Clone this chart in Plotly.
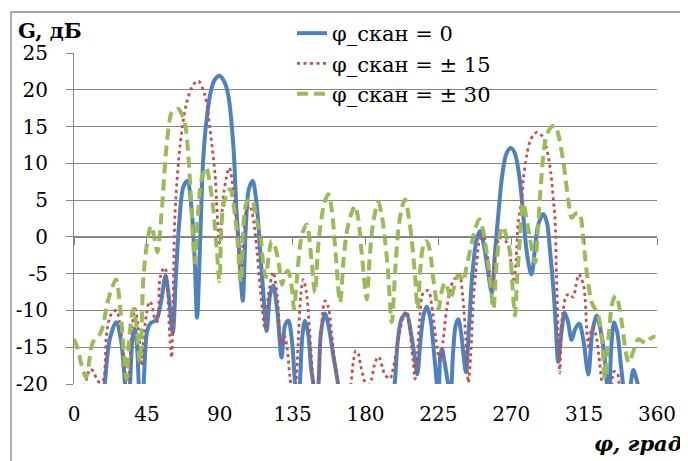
import plotly.graph_objects as go

# ---- data ----
x_scan0 = [0, 15, 19, 22, 26, 29, 31.5, 33, 34.6, 36, 37.5, 39, 40, 41.5, 43, 45, 47, 51, 54, 56.5, 58.5, 61,
           63, 65, 67.5, 70, 72.5, 74.5, 76, 77.8, 79.8, 81.9, 84.5, 87, 90, 93, 95.3, 98.4, 100.4, 102, 104.2,
           106, 108, 110.3, 112.5, 115, 117, 119, 121, 123, 125.5, 128.2, 130.3, 132.4, 134.5, 136.5, 138, 139.5,
           141, 142.6, 144.5, 146.5, 147.8, 149.5, 151, 152.5, 155, 157.5, 160, 163, 165, 180, 195, 198, 200,
           202.5, 205.4, 208, 210.5, 212, 214, 216, 217.8, 220, 222, 224, 225.2, 226.2, 227.3, 228.8, 231, 232.5,
           234, 235.7, 237.3, 239, 240.5, 242, 244, 246, 248.5, 250.7, 253, 255.5, 258, 260, 262, 264.5, 267,
           269.6, 272, 274.5, 277, 279, 281, 282.5, 284.5, 286.5, 289.8, 292, 294, 296, 297.5, 299, 301, 303,
           305, 307.3, 309.5, 312, 314.5, 317.6, 320, 322.7, 325, 327.5, 329, 330.5, 331.5, 333.5, 335.5, 337.5,
           339, 341, 343.5, 345.4, 347.5, 349, 352, 360]
g_scan0 = [-30, -28, -20, -14, -11.6, -14, -20, -24, -20, -14, -12.5, -15, -20, -24, -20, -13, -11.8, -11.2, -8.5,
           -5.3, -8, -13, -5, 2, 6.8, 7.6, 4, -3, -11, -1.2, 10.6, 16, 19.8, 21.4, 21.9, 21, 19.2, 12.4, 3.3, -2,
           -8.7, 1, 6.5, 7.6, 5, -2, -8, -12.8, -8, -6.6, -10, -16.4, -12, -11.4, -14, -20, -24, -20, -13.5,
           -11.4, -13, -18, -20, -24, -20, -13, -10.4, -12.5, -16, -20, -25, -30, -25, -20, -14, -11, -10.5, -13,
           -16.5, -18.7, -14, -10.5, -9.5, -11, -15, -20, -23, -16, -15.3, -17, -20, -22, -16, -12, -11.2, -13,
           -16, -18.4, -12, -5, -0.5, 0.8, -1, -4.5, -7.6, -2, 3, 8.5, 11.3, 12.1, 11.5, 9, 4, -1, -4, -5.1, -2,
           1.5, 3.1, 2, -2, -7, -12, -17, -13, -10.3, -11.5, -14, -12.5, -11.8, -14, -18.7, -13, -10.7, -12.5,
           -16, -20, -24, -16, -11.6, -13, -17, -20, -25, -20.5, -18.1, -19.5, -21, -26, -30]

x_scan15 = [0, 5, 7, 10, 12, 14, 16, 18, 20, 22, 24, 26.3, 28, 29.4, 31, 32.5, 33.5, 34.6, 36, 37.7, 39.5, 40.8,
            41.8, 43.3, 44.9, 46.5, 48, 50, 51.5, 53, 55, 56.2, 57.5, 59, 60.3, 61.5, 62.4, 65.5, 69.6, 73.7,
            76.8, 80.9, 84, 87, 89.8, 92.5, 95.9, 99, 101, 103, 105, 107, 108.7, 111, 113, 115, 118, 120, 123,
            125.5, 128, 130, 131.5, 133.4, 135.4, 137, 138.5, 140, 141.6, 143.5, 145.5, 147.8, 149, 150.9, 152.5,
            155, 157, 159, 161, 163, 165, 168, 171, 172.5, 174, 175.6, 177, 179.7, 181, 182, 183.8, 186, 188,
            189, 190.5, 192, 195, 197, 200.3, 202.5, 204.4, 205.5, 207, 209.5, 210.6, 212, 213.5, 215.7, 218.8,
            221, 224, 226, 228, 230, 232, 234, 236, 238, 240, 242, 243.5, 245, 246.6, 248.7, 250.7, 252.8,
            254.5, 256, 258, 260, 262, 264, 266, 268.2, 270.2, 271.7, 273, 274.4, 276.4, 277.5, 279.5, 281.6,
            283.5, 285.7, 288, 289.8, 291.5, 293, 294.5, 296, 297, 298, 299, 300, 301, 302, 304, 306, 308.3,
            310, 311.8, 313.5, 315, 316.6, 317.6, 319, 320.7, 322.5, 324, 326, 328, 331, 333.5, 335.5, 337,
            340, 360]
g_scan15 = [-30, -23, -20, -18, -18.3, -19.3, -19.8, -19.5, -13.5, -11, -10.2, -10, -11.5, -13.5, -17, -20, -22,
            -17, -12, -9.8, -12, -14.8, -17.5, -13, -10.3, -8.8, -9.2, -11.2, -11.5, -5.8, -4.4, -4.2, -6, -13,
            -16.4, -5, 3.3, 12.4, 18.3, 20.7, 21.2, 19.2, 14.6, 8.7, -0.8, 6, 9.4, 5, 0, -5.3, 1, 3.8, 4.2, 2,
            -2, -7, -12.5, -8, -4.8, -8, -14.6, -13.5, -15, -19.1, -22, -20, -14, -8, -5.8, -7.5, -13, -20, -23,
            -20, -13, -8.7, -9.5, -13, -17, -20, -24, -24, -20, -17, -15.5, -15.9, -17.5, -20, -22, -20.5, -19.3,
            -17, -16.3, -16.6, -17.8, -18.7, -19.3, -18, -13.9, -11.5, -10.3, -10.1, -12, -17.1, -19.3, -16,
            -11, -7.6, -7.3, -9.5, -14.8, -16.8, -14, -10, -7.5, -6, -5.5, -5.1, -8, -14, -19.8, -16, -8.7,
            -3.5, -0.3, 0.1, -1.5, -3.5, -7, -3, -0.5, 0, -0.5, -1, -4.2, -6.2, -3, 2.2, 4.9, 8, 11, 13, 13.8,
            14.2, 13.9, 13.6, 12.3, 10.8, 8.6, 5, 2.6, -6, -13, -18.5, -12, -10, -8, -7.8, -8.2, -6.5, -5.1,
            -5.8, -7, -12.5, -14.8, -13, -12.3, -13.5, -16, -20, -24, -22, -18.3, -18.5, -21, -26, -30]

x_scan30 = [0, 2, 4.8, 7.4, 9, 10.9, 13, 16, 18, 20.2, 23.3, 26, 28.4, 30.5, 32.5, 34, 36.6, 38.5, 40, 40.8,
            42.8, 44.9, 47.5, 49.5, 51.5, 54.1, 57.2, 60.3, 62.5, 64.4, 66.5, 68.5, 71.6, 73.7, 74.7, 76.5,
            78.8, 81.5, 85, 88, 89.8, 92.2, 96.3, 100.4, 103, 106.6, 109.7, 113, 114.9, 117, 118.5, 120, 122,
            123.5, 126, 128.5, 130.3, 132, 134.4, 135.9, 137.5, 139.6, 141.5, 143.7, 146.8, 148.8, 150.5,
            151.9, 154.5, 157, 159, 161.2, 164.3, 166.5, 168.4, 171, 173.5, 175.5, 177.6, 180.8, 182.5, 184.8,
            187.9, 190, 192, 194, 196.2, 198.5, 200.3, 202.5, 204.4, 206.5, 208.5, 210.5, 212.2, 214, 215.7,
            217.3, 218.8, 220.5, 221.9, 225, 227, 229, 231, 232.5, 234.5, 237.3, 239, 240.4, 242, 243.5, 245.6,
            248, 250.3, 252, 254.8, 257, 259, 260.5, 262, 263.5, 265, 267, 269.2, 271.3, 272.3, 273.5, 274.8,
            276.3, 277.5, 279, 281.6, 284.7, 286.3, 287.8, 290.8, 293, 295, 297, 299, 302.2, 305.2, 307.3, 309,
            311, 312.5, 314.5, 316.6, 319.7, 321.7, 323.5, 325.8, 327.9, 330, 332.5, 334.5, 336, 338.2, 341.2,
            342.7, 345.4, 348.5, 351.6, 353.6, 355.7, 357.7, 359]
g_scan30 = [-13.9, -15, -17.5, -19.1, -17.5, -14.8, -13.8, -13.2, -12, -9.4, -7, -5.8, -9.4, -14.8, -19.3, -14,
            -9.8, -12, -16, -17, -5.8, -1.2, 1.5, 0, -2.1, 3.3, 12.4, 16.9, 17.3, 17.4, 16.7, 15.5, 7.8, -1.2,
            -3.5, 3, 7.8, 9.4, 5.6, -1.2, -6, 4.2, 6.5, 1, -6.2, 4.7, 5.1, 2, 0.6, -4, -5.5, -3, -0.6, -1, -3,
            -6.5, -5, -4.6, -6.7, -9.8, -6, -1.2, 0.8, 1.7, -3.5, -7.6, -2, 1, 4.5, 5.8, 4, -1.2, -8.9, -3, 0.6,
            3, 4.2, 2.5, -2.1, -8.5, -3, 2, 4.7, 3, -0.3, -5, -11.6, -4, 1, 4, 5.1, 3, -0.3, -5, -9.8, -4, -1.2,
            -0.6, -1, -3, -5.8, -9.8, -7.5, -6.2, -7.2, -8.5, -7, -5.2, -5.5, -6, -4.5, -3, -0.8, 1.3, 2.4, 1.5,
            -2.1, -6, -9.8, -5, -1.2, 0.8, 1.4, 0, -2.1, -8.5, -10.7, -6, -2, 3, 4.6, 3, -0.3, -3.5, 0.5, 5.6,
            12.8, 14.4, 15, 15.1, 14, 10.1, 5.1, 2.6, 3, 3.3, 3, -0.3, -4.8, -8.9, -9.8, -10.5, -13.5, -19.3,
            -13.9, -8.9, -8, -8.8, -11.6, -16.2, -17.1, -15.5, -13.9, -14.3, -14.4, -13.9, -13.6, -13.6]

series_names = ["φ_скан = 0", "φ_скан = ± 15", "φ_скан = ± 30"]
x_ticks = [0, 45, 90, 135, 180, 225, 270, 315, 360]
y_ticks = [-20, -15, -10, -5, 0, 5, 10, 15, 20, 25]
y_tick_labels = ["-20", "-15", "-10", "-5", "0", "5", "10", "15", "20", "25"]
y_title = "G, дБ"
x_title = "φ, град"

FONT = "DejaVu Serif"
GRID = "#868686"

# The page body has an 8 px default margin, so the figure is 8 px smaller and
# every window-pixel position below is given relative to the plot area.
PL, PT, PW, PH = 74, 53, 583, 331   # plot area in window pixels


def px(xw):
    return (xw - PL) / PW


def py(yw):
    return (PT + PH - yw) / PH


fig = go.Figure()
fig.add_trace(go.Scatter(x=x_scan0, y=g_scan0, mode="lines", name=series_names[0],
                         line=dict(color="#4F81BD", width=4, shape="spline", smoothing=0.9)))
fig.add_trace(go.Scatter(x=x_scan15, y=g_scan15, mode="lines", name=series_names[1],
                         line=dict(color="#C0504D", width=2.8, dash="3px,3.5px", shape="spline", smoothing=0.9)))
fig.add_trace(go.Scatter(x=x_scan30, y=g_scan30, mode="lines", name=series_names[2],
                         line=dict(color="#9BBB59", width=4, dash="11px,6px", shape="spline", smoothing=0.9)))
# invisible helper trace so the axis at G = 0 is drawn
fig.add_trace(go.Scatter(x=[x_ticks[0], x_ticks[-1]], y=[y_ticks[0], y_ticks[0]], xaxis="x2", mode="lines",
                         line=dict(width=0), showlegend=False, hoverinfo="skip"))

fig.update_layout(
    width=680, height=453,
    margin=dict(l=PL - 8, r=680 - (PL - 8) - PW, t=PT - 8, b=453 - (PT - 8) - PH, autoexpand=False),
    paper_bgcolor="white", plot_bgcolor="white",
    font=dict(family=FONT, size=20, color="black"),
    showlegend=True,
    legend=dict(x=px(292), y=py(13), xanchor="left", yanchor="top",
                bgcolor="rgba(0,0,0,0)", font=dict(family=FONT, size=21), tracegroupgap=0,
                itemwidth=30),
    xaxis=dict(range=[0, 360], tickvals=x_ticks, showgrid=False, zeroline=False, showline=False,
               ticks="outside", ticklen=12, tickcolor="rgba(0,0,0,0)",
               tickfont=dict(family=FONT, size=20)),
    xaxis2=dict(range=[0, 360], tickvals=x_ticks, overlaying="x", anchor="free",
                position=(0 - y_ticks[0]) / (y_ticks[-1] - y_ticks[0]), side="bottom",
                showline=True, linecolor=GRID, linewidth=1, ticks="outside", ticklen=7, tickcolor=GRID,
                showticklabels=False, showgrid=False, zeroline=False),
    yaxis=dict(range=[-20, 25], tickvals=y_ticks, ticktext=y_tick_labels, showgrid=True, gridcolor=GRID,
               gridwidth=1, zeroline=False, showline=True, linecolor=GRID, linewidth=1,
               ticks="outside", ticklen=7, tickcolor=GRID, ticklabelstandoff=14,
               tickfont=dict(family=FONT, size=20)),
    shapes=[
        # white panel behind the legend (hides gridlines there)
        dict(type="rect", xref="paper", yref="paper", layer="between",
             x0=px(248), x1=px(527), y0=py(112), y1=py(40),
             fillcolor="white", line=dict(width=0)),
        # chart frame
        dict(type="rect", xref="paper", yref="paper", layer="above",
             x0=px(11), x1=px(700), y0=py(480), y1=py(12),
             line=dict(color=GRID, width=1.3), fillcolor="rgba(0,0,0,0)"),
    ],
    annotations=[
        dict(text="<b>" + y_title + "</b>", xref="paper", yref="paper", x=px(16),
             y=py(30), xanchor="left", yanchor="middle", showarrow=False,
             font=dict(family=FONT, size=21)),
        dict(text="<b><i>" + x_title + "</i></b>", xref="paper", yref="paper", x=px(684),
             y=py(443), xanchor="right", yanchor="middle", showarrow=False,
             font=dict(family=FONT, size=21)),
    ],
)

fig.write_html("out.html")
